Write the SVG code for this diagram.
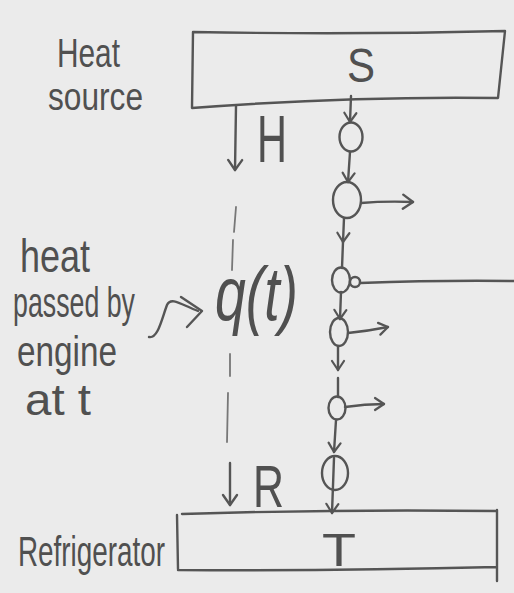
<svg xmlns="http://www.w3.org/2000/svg" width="514" height="593" viewBox="0 0 514 593">
  <style>
    .ink { fill: none; stroke: #555; stroke-width: 2.4; stroke-linecap: round; stroke-linejoin: round; }
    .faint { fill: none; stroke: #777; stroke-width: 1.8; stroke-linecap: round; }
    .hand { font-family: "Liberation Sans", "DejaVu Sans", sans-serif; fill: #505050; }
  </style>
  <defs>
    <!-- open V arrowhead, drawn with two strokes -->
    <marker id="v" viewBox="-12 -10 14 20" markerWidth="14" markerHeight="20" refX="0" refY="0" orient="auto" markerUnits="userSpaceOnUse">
      <path d="M-10,-7 L0,0 L-10,7" fill="none" stroke="#555" stroke-width="2.4" stroke-linecap="round" stroke-linejoin="round"/>
    </marker>
    <marker id="vs" viewBox="-12 -10 14 20" markerWidth="14" markerHeight="20" refX="0" refY="0" orient="auto" markerUnits="userSpaceOnUse">
      <path d="M-9,-6 L0,0 L-9,6" fill="none" stroke="#555" stroke-width="2.2" stroke-linecap="round" stroke-linejoin="round"/>
    </marker>
  </defs>

  <rect width="514" height="593" fill="#ebebeb"/>

  <!-- side labels -->
  <g id="label-heat-source">
    <text class="hand" x="57" y="67" font-size="41" textLength="63" lengthAdjust="spacingAndGlyphs">Heat</text>
    <text class="hand" x="48" y="110" font-size="38" textLength="95" lengthAdjust="spacingAndGlyphs">source</text>
  </g>
  <g id="label-heat-passed">
    <text class="hand" x="20" y="272" font-size="46" textLength="70" lengthAdjust="spacingAndGlyphs">heat</text>
    <text class="hand" x="13" y="317" font-size="42" textLength="122" lengthAdjust="spacingAndGlyphs">passed by</text>
    <text class="hand" x="17" y="366" font-size="42" textLength="100" lengthAdjust="spacingAndGlyphs">engine</text>
    <text class="hand" x="25" y="415" font-size="44" textLength="66" lengthAdjust="spacingAndGlyphs">at t</text>
  </g>
  <g id="label-refrigerator">
    <text class="hand" x="18" y="566" font-size="42" textLength="147" lengthAdjust="spacingAndGlyphs">Refrigerator</text>
  </g>

  <!-- reservoirs -->
  <g id="source-box">
    <path class="ink" d="M193,32 Q350,35 505,31 L498,98 Q350,96 192,108 Z"/>
    <text class="hand" x="361" y="82" font-size="48" text-anchor="middle" textLength="28" lengthAdjust="spacingAndGlyphs">S</text>
  </g>
  <g id="sink-box">
    <path class="ink" d="M182,514 Q340,509 497,511 M497,510 L497,581 M178,570 Q340,571 497,567 M177,515 L178,569"/>
    <text class="hand" x="339" y="566" font-size="46" text-anchor="middle" textLength="34" lengthAdjust="spacingAndGlyphs">T</text>
  </g>

  <!-- flow labels -->
  <g id="label-H">
    <text class="hand" x="257" y="162" font-size="66" textLength="30" lengthAdjust="spacingAndGlyphs">H</text>
  </g>
  <g id="label-R">
    <text class="hand" x="253" y="507" font-size="60" textLength="31" lengthAdjust="spacingAndGlyphs">R</text>
  </g>
  <g id="label-q">
    <text class="hand" x="215" y="320" font-size="76" font-style="italic" textLength="83" lengthAdjust="spacingAndGlyphs">q(t)</text>
  </g>

  <!-- engine chain -->
  <g id="engine-1"><ellipse class="ink" cx="351" cy="137" rx="11.5" ry="14.5"/></g>
  <g id="engine-2"><ellipse class="ink" cx="347" cy="200" rx="14" ry="18"/></g>
  <g id="engine-3">
    <ellipse class="ink" cx="341" cy="280" rx="9" ry="12.5"/>
    <circle class="ink" cx="355" cy="282" r="5"/>
  </g>
  <g id="engine-4"><ellipse class="ink" cx="339" cy="332" rx="9" ry="14"/></g>
  <g id="engine-5"><ellipse class="ink" cx="337" cy="408" rx="8.5" ry="11.5"/></g>
  <g id="engine-6"><ellipse class="ink" cx="335" cy="473" rx="13" ry="17"/></g>

  <!-- connectors -->
  <g id="connectors">
    <!-- heat in / heat out -->
    <path class="ink" d="M236,106 L235,170" marker-end="url(#v)"/>
    <path class="ink" d="M230,463 L230,505" marker-end="url(#v)"/>
    <!-- dashed guide -->
    <path class="faint" d="M236,207 L234,232 M233,240 L232,270"/>
    <path class="faint" d="M230,354 L230,376 M228,393 L227,442"/>
    <!-- wavy pointer -->
    <path class="ink" d="M149,337 C158,339 162,318 167,305 C171,296 182,305 198,311"/>
    <path class="ink" d="M181,297 L202,311 L187,327"/>
    <!-- vertical chain -->
    <path class="ink" d="M351,96 L350,122" marker-end="url(#vs)"/>
    <path class="ink" d="M350,152 L348,182" marker-end="url(#vs)"/>
    <path class="ink" d="M344,218 L343,242" marker-end="url(#vs)"/>
    <path class="ink" d="M343,242 L342,268"/>
    <path class="ink" d="M341,292 L340,319" marker-end="url(#vs)"/>
    <path class="ink" d="M338,346 L338,370" marker-end="url(#vs)"/>
    <path class="ink" d="M338,378 L338,397"/>
    <path class="ink" d="M336,420 L334,452" marker-end="url(#vs)"/>
    <path class="ink" d="M334,458 L332,513" marker-end="url(#vs)"/>
    <!-- work outputs -->
    <path class="ink" d="M361,203 Q385,201 413,202" marker-end="url(#v)"/>
    <path class="ink" d="M360,283 Q440,280 514,281"/>
    <path class="ink" d="M348,333 Q368,331 388,327" marker-end="url(#vs)"/>
    <path class="ink" d="M345,407 Q365,404 384,404" marker-end="url(#vs)"/>
  </g>
</svg>
